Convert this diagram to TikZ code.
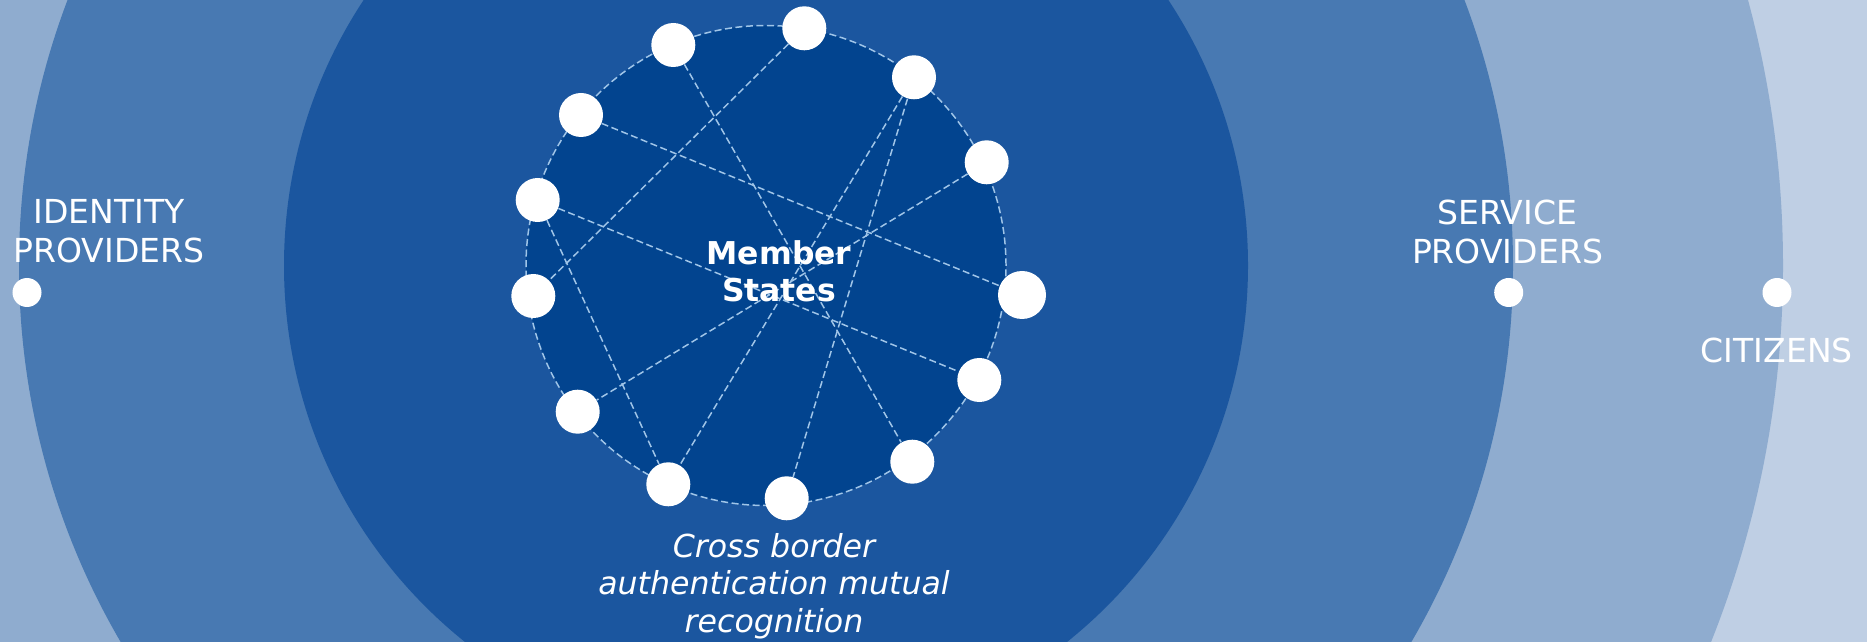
\documentclass[tikz,border=0pt]{standalone}
\usepackage{fontspec}
\setmainfont{DejaVu Sans}
\usepackage{tikz}

\definecolor{skyblue}{RGB}{191,207,228}
\definecolor{ringlight}{RGB}{143,172,207}
\definecolor{ringmid}{RGB}{72,121,178}
\definecolor{ringdark}{RGB}{27,86,159}
\definecolor{coreblue}{RGB}{2,68,143}
\definecolor{linkblue}{RGB}{160,197,232}

\begin{document}
\begin{tikzpicture}[scale=0.2,
  member/.style={circle,fill=white,minimum size=0.88cm},
  roledot/.style={circle,fill=white,minimum size=0.58cm},
  link/.style={linkblue,line width=0.85pt,dash pattern=on 4pt off 2pt},
  ringtext/.style={text=white,align=center,font=\fontsize{18.8}{22.4}\selectfont}]
\tikzstyle{every node}+=[inner sep=0pt]
\useasboundingbox (0,0) rectangle (186.7,-64.2);
\clip (0,0) rectangle (186.7,-64.2);
% rings
\fill [skyblue] (0,0) rectangle (186.7,-64.2);
\fill [ringlight] (76.6,-26.55) circle (101.7);
\fill [ringmid] (76.6,-26.55) circle (74.7);
\fill [ringdark] (76.6,-26.55) circle (48.2);
\fill [coreblue] (76.6,-26.55) circle (24);
\draw [link] (76.6,-26.55) circle (24);
% member states
\node [member] (m1) at (67.33,-4.50) {};
\node [member] (m2) at (80.43,-2.83) {};
\node [member] (m3) at (91.40,-7.73) {};
\node [member] (m4) at (58.10,-11.50) {};
\node [member] (m5) at (98.67,-16.23) {};
\node [member] (m6) at (53.77,-20.00) {};
\node [member] (m7) at (53.33,-29.60) {};
\node [member,minimum size=0.96cm] (m8) at (102.20,-29.50) {};
\node [member] (m9) at (97.93,-38.00) {};
\node [member] (m10) at (57.77,-41.17) {};
\node [member] (m11) at (91.23,-46.17) {};
\node [member] (m12) at (66.83,-48.43) {};
\node [member] (m13) at (78.67,-49.83) {};
\draw [link] (m1) -- (m11);
\draw [link] (m2) -- (m7);
\draw [link] (m3) -- (m12);
\draw [link] (m3) -- (m13);
\draw [link] (m4) -- (m8);
\draw [link] (m5) -- (m10);
\draw [link] (m6) -- (m9);
\draw [link] (m6) -- (m12);
\node [text=white,align=center,font=\bfseries\fontsize{17.9}{21.3}\selectfont] (ms) at (77.9,-27.15) {Member\\States};
\node [text=white,align=center,font=\itshape\fontsize{18}{21.3}\selectfont] (xborder) at (77.4,-58.6) {Cross border\\authentication mutual\\recognition};
% outer roles
\node [roledot] (idpdot) at (2.7,-29.25) {};
\node [ringtext] (idp) at (10.9,-23.14) {IDENTITY\\PROVIDERS};
\node [roledot] (spdot) at (150.87,-29.25) {};
\node [ringtext] (sp) at (150.75,-23.2) {SERVICE\\PROVIDERS};
\node [roledot] (citdot) at (177.7,-29.25) {};
\node [ringtext] (cit) at (177.67,-35.0) {CITIZENS};
\end{tikzpicture}
\end{document}
